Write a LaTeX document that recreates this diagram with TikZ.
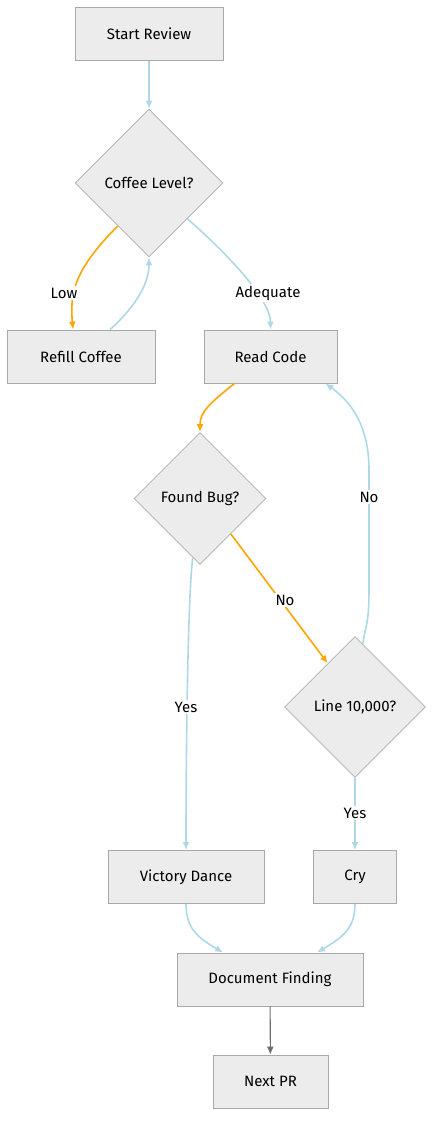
\documentclass[tikz,border=0pt]{standalone}
\usepackage{fontspec}
\setmainfont{Fira Sans}
\usepackage{xcolor}
\usepackage{tikz}
\usetikzlibrary{shapes.geometric, arrows.meta}

\definecolor{boxfill}{HTML}{ECECEC}
\definecolor{boxline}{HTML}{A8A8A8}
\definecolor{diamline}{HTML}{B8B8B8}
\definecolor{edgeblue}{HTML}{ADD8E6}
\definecolor{edgeorange}{HTML}{FFA500}
\definecolor{edgegray}{HTML}{6E6E6E}

\tikzset{
	stepbox/.style={draw=boxline, fill=boxfill, line width=0.9pt, inner sep=0pt, minimum height=53pt},
	choice/.style={diamond, aspect=1, draw=diamline, fill=boxfill, line width=0.9pt, inner sep=0pt},
	blueflow/.style={draw=edgeblue, line width=1.6pt, >={Latex[length=8pt, width=7pt]}, ->},
	orangeflow/.style={draw=edgeorange, line width=1.6pt, >={Latex[length=8pt, width=7pt]}, ->},
	grayflow/.style={draw=edgegray, line width=1.1pt, >={Latex[length=8pt, width=7pt]}, ->},
	edgelabel/.style={fill=white, inner sep=1.5pt}
}

\begin{document}
\begin{tikzpicture}[x=1pt, y=-1pt, font=\fontsize{15pt}{18pt}\selectfont]
				\useasboundingbox (0, 0) rectangle (441, 1135);
				
				\node[stepbox, minimum width=148pt] (Start) at (149, 34) {Start Review};
				\node[choice, minimum width=148pt, minimum height=148pt] (Coffee) at (149, 183) {Coffee Level?};
				\node[stepbox, minimum width=148pt] (Refill) at (81, 356.5) {Refill Coffee};
				\node[stepbox, minimum width=133pt] (Read) at (270.5, 356.5) {Read Code};
				\node[choice, minimum width=132pt, minimum height=132pt] (Bug) at (200, 498.5) {Found Bug?};
				\node[choice, minimum width=141pt, minimum height=141pt] (Line) at (355, 707) {Line 10,000?};
				\node[stepbox, minimum width=156pt] (Victory) at (186, 877) {Victory Dance};
				\node[stepbox, minimum width=83pt] (Cry) at (355, 877) {Cry};
				\node[stepbox, minimum width=186pt] (Document) at (270, 979.5) {Document Finding};
				\node[stepbox, minimum width=115pt] (Next) at (270.5, 1081.5) {Next PR};
				
				\coordinate (NoLow) at (369, 585);
				\coordinate (NoHigh) at (369, 470);
				
				\draw[blueflow] (Start) -- (Coffee);
				\draw[orangeflow] (Coffee.234) .. controls +(-45, 45) and +(-3, -35) .. ([xshift=-8pt]Refill.north);
				\draw[blueflow] ([xshift=29pt]Refill.north) .. controls +(20, -18) and +(0, 30) .. (Coffee.south);
				\draw[blueflow] (Coffee.317) .. controls +(40, 35) and +(0, -30) .. (Read.north);
				\draw[orangeflow] ([xshift=-36pt]Read.south) .. controls +(-25, 20) and +(0, -20) .. (Bug.north);
				\draw[orangeflow] (Bug.311) -- (Line.122);
				\draw[blueflow] (Bug.263) .. controls +(-5, 40) and +(0, -100) .. (Victory.north);
				\draw[blueflow] (Line.south) -- (Cry.north);
				\draw[blueflow] (Line.83) .. controls +(4, -25) and +(0, 40) .. (NoLow) -- (NoHigh) .. controls +(0, -45) and +(25, 18) .. ([xshift=-12pt]Read.south east);
				\draw[blueflow] (Victory.south) .. controls +(0, 25) and +(-25, -15) .. ([xshift=-47pt]Document.north);
				\draw[blueflow] (Cry.south) .. controls +(0, 25) and +(25, -15) .. ([xshift=47pt]Document.north);
				\draw[grayflow] (Document) -- (Next);
				
				\node[edgelabel] (LowText) at (64, 293) {Low};
				\node[edgelabel] (AdequateText) at (268, 293) {Adequate};
				\node[edgelabel] (NoBugText) at (285, 600) {No};
				\node[edgelabel] (YesBugText) at (186, 707) {Yes};
				\node[edgelabel] (NoLineText) at (369, 497) {No};
				\node[edgelabel] (YesLineText) at (355, 813) {Yes};
			\end{tikzpicture}
\end{document}
